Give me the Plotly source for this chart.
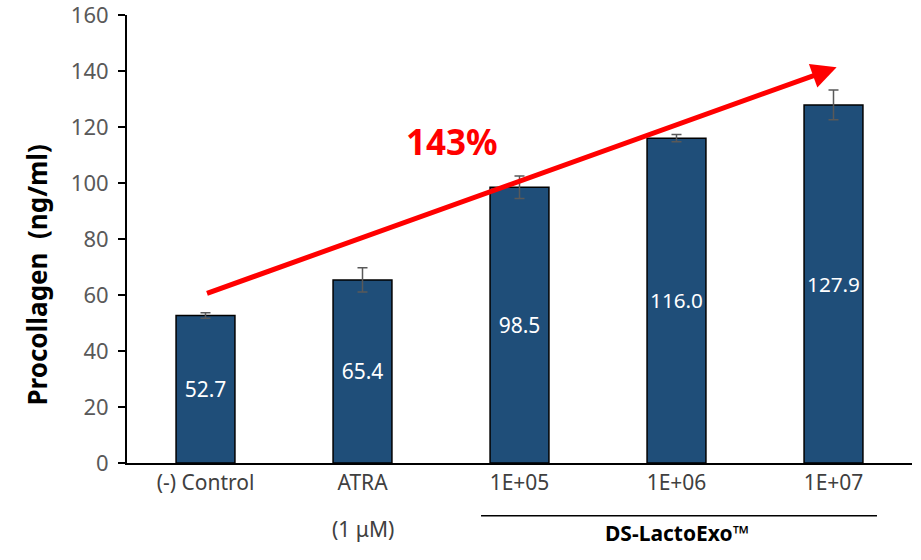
import plotly.graph_objects as go

categories = ["(-) Control", "ATRA", "1E+05", "1E+06", "1E+07"]
values = [52.7, 65.4, 98.5, 116.0, 127.9]
errors = [1.0, 4.3, 4.0, 1.3, 5.3]
value_labels = ["52.7", "65.4", "98.5", "116.0", "127.9"]
y_ticks = [0, 20, 40, 60, 80, 100, 120, 140, 160]
arrow_start = (0, 60.4)
arrow_end = (4.02, 141.3)
increase_label = "143%"
y_title = "Procollagen  (ng/ml)"

FONT = "Noto Sans"

fig = go.Figure()
fig.add_trace(go.Bar(
    x=list(range(len(categories))),
    y=values,
    text=value_labels,
    textposition="inside",
    insidetextanchor="middle",
    textangle=0,
    textfont=dict(color="white", size=21, family=FONT),
    marker=dict(color="#1F4E79", line=dict(color="black", width=1.5)),
    error_y=dict(type="data", array=errors, color="#595959", thickness=1.5, width=5),
    width=0.375,
    cliponaxis=False,
))

fig.add_annotation(
    x=arrow_end[0], y=arrow_end[1], ax=arrow_start[0], ay=arrow_start[1],
    xref="x", yref="y", axref="x", ayref="y",
    showarrow=True, arrowhead=2, arrowsize=1.0, arrowwidth=5, arrowcolor="#FF0000",
    text="",
)
fig.add_annotation(
    x=1.57, y=114.8, xref="x", yref="y", text="<b>" + increase_label + "</b>",
    showarrow=False, font=dict(color="#FF0000", size=35, family=FONT),
)
fig.add_annotation(
    x=-0.115, y=0.42, xref="paper", yref="paper", text="<b>" + y_title + "</b>",
    xanchor="center", yanchor="middle",
    textangle=-90, showarrow=False, font=dict(color="black", size=26, family=FONT),
)
fig.add_annotation(
    x=1, y=-0.183, xref="x", yref="paper", text="(1 μM)", showarrow=False,
    font=dict(color="#404040", size=21, family=FONT),
)
fig.add_annotation(
    x=3, y=-0.192, xref="x", yref="paper", text="<b>DS-LactoExo™</b>", showarrow=False,
    font=dict(color="black", size=21, family=FONT),
)
fig.add_shape(
    type="line", x0=1.755, x1=4.277, y0=-0.118, y1=-0.118, xref="x", yref="paper",
    line=dict(color="black", width=1.5),
)

fig.update_layout(
    width=921, height=560,
    margin=dict(l=127, r=9, t=15, b=97),
    plot_bgcolor="white", paper_bgcolor="white",
    showlegend=False,
    font=dict(family=FONT),
)
fig.update_xaxes(
    tickmode="array", tickvals=list(range(len(categories))), ticktext=categories,
    range=[-0.5, 4.5], automargin=False,
    showline=True, linecolor="black", linewidth=2,
    ticks="", showgrid=False,
    tickfont=dict(size=21, color="#404040", family=FONT),
)
fig.update_yaxes(
    range=[0, 160], tickvals=y_ticks, automargin=False,
    ticklabeloverflow="allow", ticklabelstandoff=5,
    showline=True, linecolor="black", linewidth=2,
    ticks="outside", ticklen=7, tickwidth=2, tickcolor="black",
    showgrid=False, zeroline=False,
    tickfont=dict(size=22, color="#595959", family=FONT),
)

fig.write_html(
    "out.html",
    config={"displayModeBar": False},
    post_script="document.body.style.margin='0';",
)
